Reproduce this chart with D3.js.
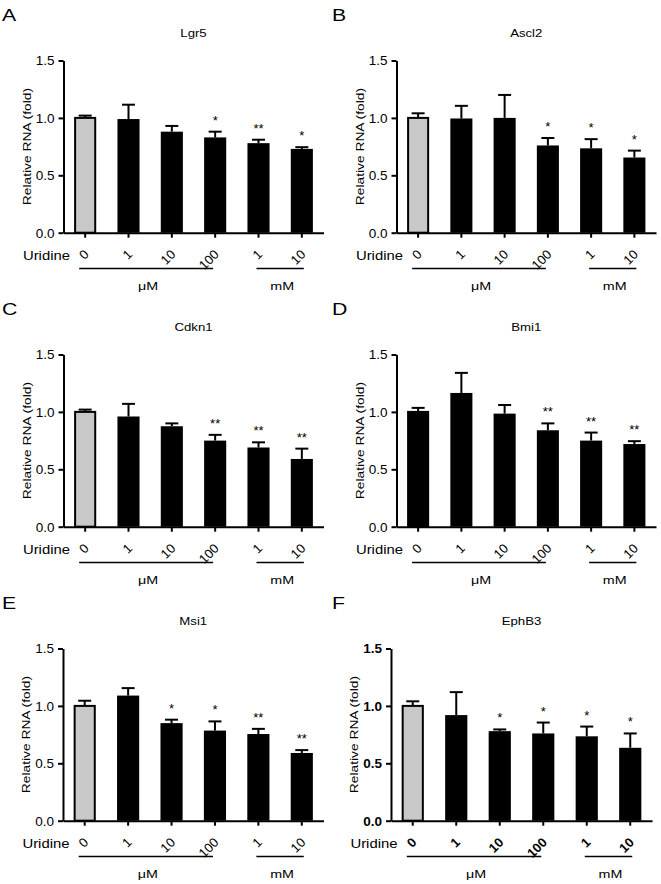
<!DOCTYPE html>
<html>
<head>
<meta charset="utf-8">
<script src="https://cdn.jsdelivr.net/npm/d3@7"></script>
<style>
  html, body { margin: 0; padding: 0; background: #fff; }
  svg { display: block; font-family: "Liberation Sans", Arial, Helvetica, sans-serif; }
</style>
</head>
<body>
<svg id="chart" width="661" height="884"></svg>
<script>
// ---------------- DATA ----------------
const panelLetters = ["A", "B", "C", "D", "E", "F"];
const genes = ["Lgr5", "Ascl2", "Cdkn1", "Bmi1", "Msi1", "EphB3"];
const doses = ["0", "1", "10", "100", "1", "10"];
const units = ["μM", "mM"];
const yTicks = [0, 0.5, 1.0, 1.5];
const yLabel = "Relative RNA (fold)";
const xLabel = "Uridine";

const lgr5 = [1.00, 0.99, 0.88, 0.83, 0.78, 0.73];
const lgr5Err = [0.02, 0.125, 0.05, 0.05, 0.03, 0.015];
const lgr5Sig = ["", "", "", "*", "**", "*"];

const ascl2 = [1.00, 0.995, 1.00, 0.76, 0.735, 0.655];
const ascl2Err = [0.04, 0.11, 0.20, 0.065, 0.08, 0.06];
const ascl2Sig = ["", "", "", "*", "*", "*"];

const cdkn1 = [1.00, 0.96, 0.875, 0.75, 0.69, 0.59];
const cdkn1Err = [0.02, 0.11, 0.025, 0.05, 0.045, 0.09];
const cdkn1Sig = ["", "", "", "**", "**", "**"];

const bmi1 = [1.00, 1.165, 0.985, 0.84, 0.75, 0.72];
const bmi1Err = [0.035, 0.175, 0.075, 0.06, 0.07, 0.025];
const bmi1Sig = ["", "", "", "**", "**", "**"];

const msi1 = [1.00, 1.09, 0.85, 0.785, 0.755, 0.59];
const msi1Err = [0.045, 0.065, 0.03, 0.08, 0.045, 0.025];
const msi1Sig = ["", "", "*", "*", "**", "**"];

const ephb3 = [1.00, 0.92, 0.78, 0.76, 0.735, 0.635];
const ephb3Err = [0.04, 0.20, 0.015, 0.095, 0.085, 0.125];
const ephb3Sig = ["", "", "*", "*", "*", "*"];

const seriesValues = [lgr5, ascl2, cdkn1, bmi1, msi1, ephb3];
const seriesErrors = [lgr5Err, ascl2Err, cdkn1Err, bmi1Err, msi1Err, ephb3Err];
const seriesSig = [lgr5Sig, ascl2Sig, cdkn1Sig, bmi1Sig, msi1Sig, ephb3Sig];

// ---------------- LAYOUT (styles / positions) ----------------
const layout = [
  { colLeft: 0,   oy: 0,   x0: 63.5,  x1: 323.5, ctrl: "#c8c8c8", bold: false },
  { colLeft: 330, oy: 0,   x0: 396.5, x1: 656,   ctrl: "#c8c8c8", bold: false },
  { colLeft: 0,   oy: 294, x0: 63.5,  x1: 323.5, ctrl: "#c8c8c8", bold: false },
  { colLeft: 330, oy: 294, x0: 396.5, x1: 656,   ctrl: "#000000", bold: false },
  { colLeft: 0,   oy: 588, x0: 63,    x1: 323.5, ctrl: "#c8c8c8", bold: false },
  { colLeft: 330, oy: 588, x0: 391,   x1: 652,   ctrl: "#c8c8c8", bold: true }
];

const svg = d3.select("#chart");
svg.append("rect").attr("width", 661).attr("height", 884).attr("fill", "#fff");

function label(g, str, x, y, o) {
  return g.append("text")
    .attr("transform", `translate(${x},${y}) rotate(${o.rot || 0}) scale(${o.sx || 1},1)`)
    .attr("text-anchor", o.anchor || "start")
    .attr("font-size", o.size)
    .attr("font-weight", o.weight || "normal")
    .attr("fill", "#000")
    .text(str);
}

layout.forEach((L, p) => {
  const g = svg.append("g");
  const vals = seriesValues[p], errs = seriesErrors[p], sig = seriesSig[p];
  const yBase = L.oy + 232.7, yTop = L.oy + 60.5;

  const x = d3.scaleBand().domain(d3.range(doses.length))
    .range([L.x0, L.x1]).paddingInner(0.49).paddingOuter(0.245);
  const y = d3.scaleLinear().domain([0, 1.5]).range([yBase, yTop]);

  // bars
  g.selectAll("rect.bar").data(vals).enter().append("rect")
    .attr("class", "bar")
    .attr("x", (d, i) => x(i) + (i === 0 ? 1 : 0))
    .attr("width", (d, i) => x.bandwidth() - (i === 0 ? 2 : 0))
    .attr("y", d => y(d))
    .attr("height", d => yBase - y(d))
    .attr("fill", (d, i) => i === 0 ? L.ctrl : "#000")
    .attr("stroke", "#000")
    .attr("stroke-width", (d, i) => i === 0 ? 2 : 0);

  // error bars (upper only)
  const cx = i => x(i) + x.bandwidth() / 2;
  g.selectAll("line.err").data(vals).enter().append("line")
    .attr("x1", (d, i) => cx(i)).attr("x2", (d, i) => cx(i))
    .attr("y1", d => y(d)).attr("y2", (d, i) => y(d + errs[i]))
    .attr("stroke", "#000").attr("stroke-width", 2);
  g.selectAll("line.cap").data(vals).enter().append("line")
    .attr("x1", (d, i) => cx(i) - 6.5).attr("x2", (d, i) => cx(i) + 6.5)
    .attr("y1", (d, i) => y(d + errs[i])).attr("y2", (d, i) => y(d + errs[i]))
    .attr("stroke", "#000").attr("stroke-width", 2);

  // significance stars
  g.selectAll("text.sig").data(sig).enter().append("text")
    .attr("x", (d, i) => cx(i))
    .attr("y", (d, i) => y(vals[i] + errs[i]) - 7)
    .attr("text-anchor", "middle")
    .attr("font-size", 13)
    .text(d => d);

  // y axis
  const ya = g.append("g").attr("transform", `translate(${L.x0},0)`)
    .call(d3.axisLeft(y).tickValues(yTicks).tickFormat(d3.format(".1f")).tickSize(5).tickSizeOuter(0).tickPadding(4));
  ya.selectAll("path, line").attr("stroke", "#000").attr("stroke-width", 2);
  ya.selectAll("text").attr("font-size", 13.5).attr("fill", "#000")
    .attr("font-weight", L.bold ? "bold" : "normal")
    .attr("font-family", "'Liberation Sans', Arial, sans-serif");

  // x axis
  const xa = g.append("g").attr("transform", `translate(0,${yBase})`)
    .call(d3.axisBottom(x).tickFormat(i => doses[i]).tickSize(5).tickSizeOuter(0));
  xa.selectAll("path, line").attr("stroke", "#000").attr("stroke-width", 2);
  xa.selectAll("text")
    .attr("x", 0).attr("y", 0).attr("dy", null)
    .attr("text-anchor", "end")
    .attr("transform", "translate(4.5,22.5) rotate(-45)")
    .attr("font-size", 13).attr("fill", "#000")
    .attr("font-weight", L.bold ? "bold" : "normal")
    .attr("font-family", "'Liberation Sans', Arial, sans-serif");

  // panel letter and title
  label(g, panelLetters[p], L.colLeft + 2, L.oy + 20.5, { size: 17, sx: 1.25 });
  label(g, genes[p], (L.x0 + L.x1) / 2, L.oy + 37, { size: 11, sx: 1.2, anchor: "middle" });

  // y label
  label(g, yLabel, L.x0 - 33, (yBase + yTop) / 2, { size: 11.5, sx: 1.2, rot: -90, anchor: "middle" });

  // Uridine
  label(g, xLabel, L.x0 + 6.5, L.oy + 259.5, { size: 12, sx: 1.24, anchor: "end" });

  // group lines and unit labels
  const lineY = L.oy + 268.5;
  const groups = [[0, 3, -6, -2], [4, 5, -2, 2]];
  groups.forEach((gr, k) => {
    const a = cx(gr[0]) + gr[2], b = cx(gr[1]) + gr[3];
    g.append("line").attr("x1", a).attr("x2", b).attr("y1", lineY).attr("y2", lineY)
      .attr("stroke", "#000").attr("stroke-width", 1.5);
    label(g, units[k], (a + b) / 2 + 2, L.oy + 289.5, { size: 11, sx: 1.3, anchor: "middle" });
  });
});
</script>
</body>
</html>
